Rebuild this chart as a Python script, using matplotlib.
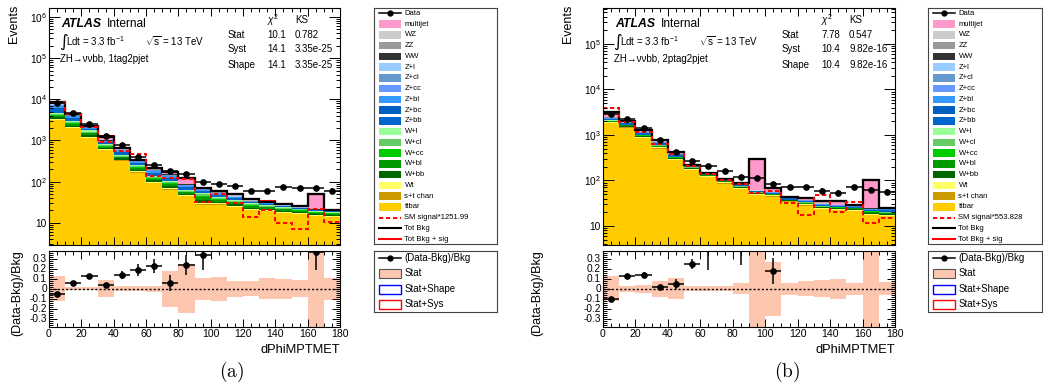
import numpy as np
import matplotlib
matplotlib.use('Agg')
import matplotlib.pyplot as plt
from matplotlib.ticker import MultipleLocator, LogLocator, FuncFormatter, NullFormatter
from matplotlib.patches import Rectangle

plt.rcParams['font.family'] = ['Liberation Sans', 'DejaVu Sans']
plt.rcParams['mathtext.fontset'] = 'custom'
plt.rcParams['mathtext.rm'] = 'Liberation Sans'
plt.rcParams['mathtext.it'] = 'Liberation Sans:italic'
plt.rcParams['mathtext.bf'] = 'Liberation Sans:bold'
plt.rcParams['axes.unicode_minus'] = False

# ---------------- data ----------------
bin_edges = [0, 10, 20, 30, 40, 50, 60, 70, 80, 90, 100, 110, 120, 130, 140, 150, 160, 170, 180]

proc_names = ['ttbar', 's+t chan', 'Wt', 'W+bb', 'W+bl', 'W+cc', 'W+cl', 'W+l',
              'Z+bb', 'Z+bc', 'Z+bl', 'Z+cc', 'Z+cl', 'Z+l', 'WW', 'ZZ', 'WZ', 'multijet']
proc_colors = ['#FFCC00', '#CC9900', '#FFFF66', '#006600', '#009900', '#00CC00', '#66CC66', '#99FF99',
               '#0066CC', '#0060C0', '#3399FF', '#6699FF', '#6699CC', '#99CCFF', '#333333', '#999999',
               '#CCCCCC', '#FF99CC']

# panel (a): 1tag2pjet
a_ttbar = [3100, 2000, 1150, 580, 320, 165, 93, 63, 44, 27, 27, 24, 20, 19, 17, 16, 14.5, 13.5]
a_stop = [60, 40, 25, 12, 7, 4, 2, 2, 1, 1, 1, 0.5, 0.5, 0.5, 0.4, 0.4, 0.3, 0.3]
a_Wt = [150, 90, 60, 30, 18, 10, 5, 4, 3, 2, 2, 1.5, 1.2, 1, 1, 0.8, 0.8, 0.7]
a_Wbb = [310, 175, 115, 42, 22, 16, 8, 8, 3.3, 5.3, 2.9, 2.2, 1.8, 1.5, 1.3, 1.1, 0.9, 0.9]
a_Wbl = [350, 200, 130, 48, 25, 19, 9, 9, 3.8, 6, 3.2, 2.5, 2, 1.8, 1.5, 1.2, 1, 1]
a_Wcc = [180, 105, 68, 25, 13, 10, 4.5, 4.5, 2, 3.1, 1.7, 1.3, 1, 0.9, 0.8, 0.7, 0.5, 0.5]
a_Wcl = [280, 160, 104, 38, 20, 15, 7, 7, 3, 4.8, 2.6, 2, 1.6, 1.4, 1.2, 1, 0.8, 0.8]
a_Wl = [280, 160, 103, 37, 20, 15, 6.5, 6.5, 2.9, 4.8, 2.6, 2, 1.6, 1.4, 1.2, 1, 0.8, 0.8]
a_Zbb = [1050, 455, 147, 63, 60, 26, 21, 16, 7.7, 4.5, 3.9, 2.8, 1.4, 1.2, 0.7, 0.5, 0.5, 0.4]
a_Zbc = [360, 156, 50, 22, 20, 9, 7, 5.4, 2.6, 1.6, 1.3, 1, 0.5, 0.4, 0.25, 0.2, 0.2, 0.15]
a_Zbl = [750, 325, 105, 45, 43, 19, 15, 11, 5.5, 3.3, 2.8, 2, 1, 0.9, 0.5, 0.4, 0.4, 0.3]
a_Zcc = [300, 130, 42, 18, 17, 7.5, 6, 4.5, 2.2, 1.3, 1.1, 0.8, 0.4, 0.35, 0.2, 0.15, 0.15, 0.12]
a_Zcl = [300, 130, 42, 18, 17, 7.5, 6, 4.5, 2.2, 1.3, 1.1, 0.8, 0.4, 0.35, 0.2, 0.15, 0.15, 0.12]
a_Zl = [240, 104, 34, 14, 13, 6, 5, 3.6, 1.8, 1, 0.8, 0.6, 0.3, 0.3, 0.15, 0.1, 0.1, 0.1]
a_WW = [100, 30, 15, 8, 5, 3, 2, 1, 1, 1, 0.5, 0.5, 0.3, 0.3, 0.2, 0.2, 0.2, 0.1]
a_ZZ = [250, 60, 25, 15, 15, 5, 4, 3, 2, 1, 1, 1, 0.8, 0.5, 0.4, 0.3, 0.3, 0.3]
a_WZ = [200, 50, 25, 15, 15, 5, 4, 3, 2, 1, 1, 1, 0.7, 0.5, 0.4, 0.3, 0.4, 0.3]
a_multijet = [240, 60, 40, 220, 20, 3, 5, 19, 32, 2, 1.5, 4.5, 2.5, 0.7, 0.6, 1.5, 28, 0.1]
a_data = [8100, 4650, 2520, 1300, 760, 405, 258, 185, 152, 97, 90, 80, 60, 60, 74, 70, 69, 61]
a_signal_scaled = [8600, 4500, 2100, 910, 550, 480, 140, 122, 116, 33, 50, 31, 13.8, 21, 10.2, 7, 22, 10.4]
a_sig_scale = 1251.99
a_ratio = [-0.057, 0.06, 0.123, 0.04, 0.14, 0.19, 0.227, 0.06, 0.233, 0.333, 0.55, 0.57, 0.6, 0.8, 1.6, 1.7, 0.37, 2.0]
a_ratio_err = [0.01, 0.01, 0.015, 0.02, 0.04, 0.06, 0.07, 0.08, 0.1, 0.15, 0.16, 0.17, 0.2, 0.23, 0.3, 0.32, 0.18, 0.38]
a_stat = [0.125, 0.012, 0.015, 0.083, 0.025, 0.025, 0.03, 0.18, 0.245, 0.11, 0.12, 0.08, 0.075, 0.105, 0.1, 0.085, 0.45, 0.11]

# panel (b): 2ptag2pjet
b_ttbar = [1800, 1450, 850, 500, 275, 170, 118, 85, 65, 48, 44, 34, 28, 23, 22, 21, 17.5, 16.5]
b_stop = [25, 20, 15, 8, 5, 3, 2, 2, 1, 1, 1, 0.5, 0.5, 0.5, 0.5, 0.4, 0.3, 0.3]
b_Wt = [60, 50, 35, 22, 12, 8, 5, 4, 3, 2, 2, 1.5, 1.2, 1, 1, 1, 0.8, 0.8]
b_Wbb = [60, 48, 33, 21, 12, 4.5, 3, 2.1, 1.8, 1.2, 1.2, 0.6, 1.2, 0.9, 0.9, 0.9, 0.9, 0.75]
b_Wbl = [60, 48, 33, 21, 12, 4.5, 3, 2.1, 1.8, 1.2, 1.2, 0.6, 1.2, 0.9, 0.9, 0.9, 0.9, 0.75]
b_Wcc = [24, 19, 13, 8.4, 4.8, 1.8, 1.2, 0.8, 0.7, 0.5, 0.5, 0.25, 0.5, 0.35, 0.35, 0.35, 0.35, 0.3]
b_Wcl = [28, 22.5, 15.5, 9.8, 5.6, 2.1, 1.4, 1, 0.85, 0.55, 0.55, 0.3, 0.55, 0.4, 0.4, 0.4, 0.4, 0.35]
b_Wl = [28, 22.5, 15.5, 9.8, 5.6, 2.1, 1.4, 1, 0.85, 0.55, 0.55, 0.3, 0.55, 0.4, 0.4, 0.4, 0.4, 0.35]
b_Zbb = [135, 90, 68, 45, 27, 7, 4.5, 3.6, 2.7, 1.8, 1.8, 2.3, 1.4, 1.4, 0.9, 0.9, 1.1, 1.8]
b_Zbc = [30, 20, 15, 10, 6, 1.5, 1, 0.8, 0.6, 0.4, 0.4, 0.5, 0.3, 0.3, 0.2, 0.2, 0.25, 0.4]
b_Zbl = [60, 40, 30, 20, 12, 3, 2, 1.6, 1.2, 0.8, 0.8, 1, 0.6, 0.6, 0.4, 0.4, 0.5, 0.8]
b_Zcc = [30, 20, 15, 10, 6, 1.5, 1, 0.8, 0.6, 0.4, 0.4, 0.5, 0.3, 0.3, 0.2, 0.2, 0.25, 0.4]
b_Zcl = [24, 16, 12, 8, 5, 1.2, 0.8, 0.6, 0.5, 0.3, 0.3, 0.4, 0.2, 0.2, 0.15, 0.15, 0.2, 0.3]
b_Zl = [21, 14, 10, 7, 4, 0.8, 0.7, 0.6, 0.4, 0.3, 0.3, 0.3, 0.2, 0.2, 0.15, 0.15, 0.2, 0.3]
b_WW = [20, 15, 10, 6, 3, 1, 1, 0.5, 0.5, 0.3, 0.3, 0.2, 0.2, 0.2, 0.2, 0.2, 0.2, 0.1]
b_ZZ = [40, 25, 20, 12, 7, 3, 1, 1, 1, 0.7, 0.7, 0.5, 0.4, 0.4, 0.3, 0.3, 0.3, 0.2]
b_WZ = [30, 20, 15, 10, 6, 2, 1, 0.5, 0.5, 0.5, 0.5, 0.3, 0.4, 0.4, 0.3, 0.3, 0.4, 0.1]
b_multijet = [775, 100, 75, 32, 7, 1, 0, 0, 4, 233, 12.5, 0, 4.3, 4, 6, 0.8, 75, 0]
b_data = [2960, 2290, 1450, 770, 430, 272, 210, 162, 121, 112, 82, 70, 70, 59, 54, 70, 63, 57]
b_signal_scaled = [3900, 1900, 1150, 630, 380, 212, 138, 102, 84, 54, 60, 31.5, 17.5, 47, 20.5, 34, 11.8, 14.8]
b_sig_scale = 553.828
b_ratio = [-0.10, 0.123, 0.137, 0.013, 0.043, 0.243, 0.45, 0.55, 0.42, -0.62, 0.177, 0.59, 0.67, 0.66, 0.62, 1.4, -0.5, 1.3]
b_ratio_err = [0.015, 0.02, 0.025, 0.025, 0.05, 0.05, 0.26, 0.12, 0.18, 0.06, 0.13, 0.19, 0.2, 0.22, 0.2, 0.3, 0.08, 0.3]
b_stat = [0.125, 0.03, 0.04, 0.08, 0.107, 0.025, 0.025, 0.025, 0.055, 0.45, 0.27, 0.06, 0.075, 0.085, 0.1, 0.06, 0.45, 0.065]

a_comps = [a_ttbar, a_stop, a_Wt, a_Wbb, a_Wbl, a_Wcc, a_Wcl, a_Wl, a_Zbb, a_Zbc, a_Zbl, a_Zcc, a_Zcl, a_Zl,
           a_WW, a_ZZ, a_WZ, a_multijet]
b_comps = [b_ttbar, b_stop, b_Wt, b_Wbb, b_Wbl, b_Wcc, b_Wcl, b_Wl, b_Zbb, b_Zbc, b_Zbl, b_Zcc, b_Zcl, b_Zl,
           b_WW, b_ZZ, b_WZ, b_multijet]

# ---------------- figure ----------------
W, H = 1043, 392
fig = plt.figure(figsize=(W / 100, H / 100), dpi=100)


def px_axes(l, t, r, b):
    return fig.add_axes([l / W, 1 - b / H, (r - l) / W, (b - t) / H])


def ftext(x, y, s, **kw):
    return fig.text(x / W, 1 - y / H, s, **kw)


def logfmt(v, pos):
    e = int(round(np.log10(v)))
    return '10' if e == 1 else r'$10^{%d}$' % e


def rfmt(v, pos):
    return '0' if abs(v) < 1e-9 else '%.1f' % v


def style_axis(ax):
    for sp in ax.spines.values():
        sp.set_linewidth(0.8)
    ax.tick_params(which='both', direction='in', top=True, right=True, labelsize=7.3, pad=1.5, width=0.7)
    ax.tick_params(which='major', length=6)
    ax.tick_params(which='minor', length=3)


def draw_panel(left, right, comps, data, sig_scaled, sig_scale, ratio, ratio_err, stat, ylim):
    edges = np.array(bin_edges, dtype=float)
    centers = 0.5 * (edges[:-1] + edges[1:])
    halfw = 0.5 * (edges[1:] - edges[:-1])

    ax = px_axes(left, 8, right, 245)
    ax.set_yscale('log')
    ax.hist([centers] * len(comps), bins=edges, weights=comps, stacked=True,
            histtype='stepfilled', color=proc_colors, linewidth=0)
    total = np.sum(np.array(comps, dtype=float), axis=0)
    sig = np.array(sig_scaled, dtype=float)
    ax.stairs(total + sig / sig_scale, edges, color='red', lw=1.5, baseline=None)
    ax.stairs(total, edges, color='black', lw=1.6, baseline=None)
    ax.stairs(sig, edges, color='red', lw=1.4, ls=(0, (2.2, 1.4)), baseline=None)
    d = np.array(data, dtype=float)
    ax.errorbar(centers, d, xerr=halfw, yerr=np.sqrt(d), fmt='o', color='black', ms=3.8,
                elinewidth=1.1, capsize=0, zorder=5)
    ax.set_xlim(edges[0], edges[-1])
    ax.set_ylim(*ylim)
    style_axis(ax)
    ax.xaxis.set_major_locator(MultipleLocator(20))
    ax.xaxis.set_minor_locator(MultipleLocator(5))
    ax.xaxis.set_major_formatter(NullFormatter())
    ax.yaxis.set_major_locator(LogLocator(base=10))
    ax.yaxis.set_minor_locator(LogLocator(base=10, subs=np.arange(2, 10)))
    ax.yaxis.set_major_formatter(FuncFormatter(logfmt))
    ax.yaxis.set_minor_formatter(NullFormatter())
    ax.tick_params(which='major', axis='y', length=8)

    rx = px_axes(left, 251, right, 327)
    st = np.array(stat, dtype=float)
    rx.stairs(st, edges, baseline=-st, fill=True, color='#FDC6AE', lw=0)
    rx.axhline(0, color='black', lw=1.0, ls=(0, (1.5, 1.5)))
    rx.errorbar(centers, ratio, xerr=halfw, yerr=ratio_err, fmt='o', color='black', ms=3.8,
                elinewidth=1.1, capsize=0, zorder=5)
    rx.set_xlim(edges[0], edges[-1])
    rx.set_ylim(-0.385, 0.375)
    style_axis(rx)
    rx.xaxis.set_major_locator(MultipleLocator(20))
    rx.xaxis.set_minor_locator(MultipleLocator(5))
    rx.yaxis.set_major_locator(MultipleLocator(0.1))
    rx.yaxis.set_minor_locator(MultipleLocator(0.02))
    rx.yaxis.set_major_formatter(FuncFormatter(rfmt))
    rx.tick_params(axis='x', labelsize=7.6)
    return ax, rx


def draw_legends(l, r, sig_label):
    # main legend
    lax = px_axes(l, 8, r, 244)
    lax.set_xlim(0, r - l)
    lax.set_ylim(236, 0)
    lax.set_xticks([])
    lax.set_yticks([])
    for sp in lax.spines.values():
        sp.set_linewidth(0.8)
        sp.set_color('#444444')
    entries = [('data', 'Data', None)]
    for name, col in zip(proc_names[::-1], proc_colors[::-1]):
        entries.append(('patch', name, col))
    entries += [('dash', sig_label, 'red'), ('line', 'Tot Bkg', 'black'), ('line', 'Tot Bkg + sig', 'red')]
    x0, x1, tx = 4.5, 26.5, 30.5
    for i, (kind, label, col) in enumerate(entries):
        y = 5.3 + i * 10.75
        if kind == 'data':
            lax.plot([x0, x1], [y, y], color='black', lw=1.1)
            lax.plot([(x0 + x1) / 2], [y], 'o', color='black', ms=3.5)
        elif kind == 'patch':
            lax.add_patch(Rectangle((x0, y - 3.7), x1 - x0, 7.4, facecolor=col, edgecolor='none'))
        elif kind == 'dash':
            lax.plot([x0, x1], [y, y], color=col, lw=1.4, ls=(0, (2.2, 1.4)))
        else:
            lax.plot([x0, x1], [y, y], color=col, lw=1.5)
        lax.text(tx, y, label, va='center', ha='left', fontsize=5.5)

    # ratio legend
    rl = px_axes(l, 251, r, 312)
    rl.set_xlim(0, r - l)
    rl.set_ylim(61, 0)
    rl.set_xticks([])
    rl.set_yticks([])
    for sp in rl.spines.values():
        sp.set_linewidth(0.8)
        sp.set_color('#444444')
    rys = [7, 22.5, 38.3, 53.3]
    rl.plot([x0, x1], [rys[0], rys[0]], color='black', lw=1.1)
    rl.plot([(x0 + x1) / 2], [rys[0]], 'o', color='black', ms=3.5)
    rl.add_patch(Rectangle((x0, rys[1] - 4.8), x1 - x0, 9.6, facecolor='#FDC6AE', edgecolor='#555555', lw=0.8))
    rl.add_patch(Rectangle((x0, rys[2] - 4.8), x1 - x0, 9.6, facecolor='white', edgecolor='#0000FF', lw=1.0))
    rl.add_patch(Rectangle((x0, rys[3] - 4.8), x1 - x0, 9.6, facecolor='white', edgecolor='#FF0000', lw=1.0))
    for y, lab in zip(rys, ['(Data-Bkg)/Bkg', 'Stat', 'Stat+Shape', 'Stat+Sys']):
        rl.text(tx, y, lab, va='center', ha='left', fontsize=7)


def draw_texts(left, right, region, chi, ks, tab_x, evt_x, rat_x, letter, letter_x):
    ftext(left + 12, 27, 'ATLAS', fontsize=8.8, fontweight='bold', fontstyle='italic', va='baseline')
    ftext(left + 58, 27, 'Internal', fontsize=8.6, va='baseline')
    ftext(left + 10, 41.5, '\u222b', fontsize=12, va='center', family=['DejaVu Sans'])
    ftext(left + 17, 41, r'Ldt = 3.3 fb$^{-1}$', fontsize=7, va='center')
    ftext(left + 96, 41, r'$\sqrt{\mathrm{s}}$ = 13 TeV', fontsize=7, va='center')
    ftext(left + 11, 59, region, fontsize=7, va='center')
    ftext(tab_x[1], 20, r'$\chi^2$', fontsize=7, va='center')
    ftext(tab_x[2], 20, 'KS', fontsize=7, va='center')
    for i, row in enumerate(['Stat', 'Syst', 'Shape']):
        y = 34.5 + i * 15
        ftext(tab_x[0], y, row, fontsize=7, va='center')
        ftext(tab_x[1], y, chi[i], fontsize=7, va='center')
        ftext(tab_x[2], y, ks[i], fontsize=7, va='center')
    ftext(evt_x, 5, 'Events', rotation=90, ha='center', va='top', fontsize=9)
    ftext(rat_x, 250, '(Data-Bkg)/Bkg', rotation=90, ha='center', va='top', fontsize=9)
    ftext(right, 353, 'dPhiMPTMET', ha='right', va='baseline', fontsize=9.3)
    ftext(letter_x, 372, r'$\mathrm{(%s)}$' % letter, ha='center', va='center', fontsize=14,
          math_fontfamily='cm')


draw_panel(49, 340, a_comps, a_data, a_signal_scaled, a_sig_scale, a_ratio, a_ratio_err, a_stat, (2.9, 1.65e6))
draw_panel(603, 895, b_comps, b_data, b_signal_scaled, b_sig_scale, b_ratio, b_ratio_err, b_stat, (3.8, 6.2e5))
draw_legends(374, 497, 'SM signal*1251.99')
draw_legends(928, 1042, 'SM signal*553.828')
draw_texts(49, 340, 'ZH\u2192\u03bd\u03bdbb, 1tag2pjet', ['10.1', '14.1', '14.1'],
           ['0.782', '3.35e-25', '3.35e-25'], (228, 267, 295), 14, 17, 'a', 232)
draw_texts(603, 895, 'ZH\u2192\u03bd\u03bdbb, 2ptag2pjet', ['7.78', '10.4', '10.4'],
           ['0.547', '9.82e-16', '9.82e-16'], (782, 821, 849), 568, 537, 'b', 787)

fig.savefig('out.png', dpi=100)
